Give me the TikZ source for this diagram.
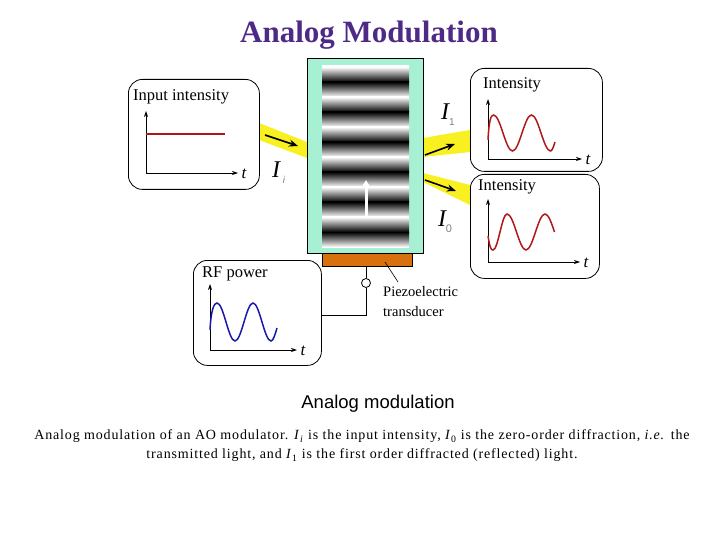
\documentclass[tikz,border=0pt]{standalone}
\usepackage{fontspec}
\setmainfont{Liberation Serif}
\newfontfamily\arialf{Liberation Sans}
\newfontfamily\capf[LetterSpace=6]{Liberation Serif}
\usetikzlibrary{arrows.meta}
\definecolor{ttl}{HTML}{4E2A86}
\definecolor{aqua}{HTML}{A8F0D4}
\definecolor{piezo}{HTML}{D8700E}
\definecolor{beam}{HTML}{F8F020}
\definecolor{sred}{HTML}{B01818}
\definecolor{sblue}{HTML}{1818A8}
\tikzset{
 panel/.style={draw=black, line width=0.8pt, rounded corners=14pt},
 axis/.style={line width=0.8pt, -{Stealth[length=6pt,width=4pt]}},
 lbl/.style={anchor=west, inner sep=0pt, font=\fontsize{16.5}{17}\selectfont},
 tl/.style={inner sep=0pt, font=\fontsize{17}{18}\selectfont\itshape},
 bigI/.style={inner sep=0pt, font=\fontsize{24}{26}\selectfont\itshape},
 bar/.style={-{Stealth[length=9pt,width=7pt]}, line width=1.6pt},
 wave/.style={line width=1.5pt},
}
\begin{document}
\begin{tikzpicture}[x=1pt,y=-1pt]
\useasboundingbox (0,0) rectangle (720,540);
\node[font=\fontsize{31}{32}\selectfont\bfseries, text=ttl] (title) at (369,35) {Analog Modulation};
% beams
\fill[beam] (259,123) -- (307,142) -- (307,158) -- (259,140) -- cycle;
\fill[beam] (423,138) -- (470,130) -- (470,152) -- (423,157) -- cycle;
\fill[beam] (423,173) -- (470,185) -- (470,205) -- (423,182) -- cycle;
% crystal
\node[draw, line width=0.8pt, fill=aqua, minimum width=116pt, minimum height=195pt, inner sep=0pt, anchor=north west] (cryst) at (307,58) {};
\fill[white] (322,65) rectangle (409,67);
\foreach \k in {0,...,5}{
  \pgfmathsetmacro{\ya}{67+30*\k}
  \pgfmathsetmacro{\yb}{82+30*\k}
  \pgfmathsetmacro{\yc}{97+30*\k}
  \shade[top color=white, bottom color=black] (322,\ya) rectangle (409,\yb);
  \shade[top color=black, bottom color=white] (322,\yb) rectangle (409,\yc);
}
\coordinate (wa) at (366,217); \coordinate (wb) at (366,180);
\draw[white, line width=3pt, -{Triangle[length=8pt,width=9pt]}] (wa) -- (wb);
% transducer
\node[draw, line width=0.5pt, fill=piezo, minimum width=90pt, minimum height=13pt, inner sep=0pt, anchor=north west] (pz) at (322,253) {};
\node[draw, circle, fill=white, minimum size=9pt, inner sep=0pt, line width=0.8pt] (term) at (366,283) {};
\coordinate (corner) at (366,315);
\draw[line width=0.8pt] (366,266) -- (term) -- (corner) -- (321,315);
\coordinate (p1) at (385,262); \coordinate (p2) at (398,282);
\draw[line width=0.6pt] (p1) -- (p2);
\node[lbl, anchor=north west, align=left, font=\fontsize{14.5}{20}\selectfont] (piez) at (383,286) {Piezoelectric\\transducer};
% input panel
\node[panel, minimum width=131pt, minimum height=110pt, anchor=north west] (inp) at (128,79) {};
\node[lbl] at (133,97) {Input intensity};
\draw[axis] (146,173) -- (146,111);
\draw[axis] (146,173) -- (238,173);
\node[tl] at (244,174) {t};
\draw[sred, line width=1.5pt] (146,134) -- (225,134);
% intensity 1
\node[panel, minimum width=132pt, minimum height=103pt, anchor=north west] (o1) at (470,68) {};
\node[lbl] at (483,85) {Intensity};
\draw[axis] (488,159) -- (488,99);
\draw[axis] (488,159) -- (582,159);
\node[tl] at (588,160) {t};
\draw[sred, wave] (488,140) .. controls (489,120) and (491,115) .. (493.5,115) cos (503,133) sin (512.5,151) cos (522,133) sin (531.5,115) cos (541,133) sin (550.5,151) cos (555,142);
% intensity 2
\node[panel, minimum width=129pt, minimum height=104pt, anchor=north west] (o0) at (470,174) {};
\node[lbl] at (478,187) {Intensity};
\draw[axis] (488,262) -- (488,199);
\draw[axis] (488,262) -- (580,262);
\node[tl] at (586,263) {t};
\draw[sred, wave] (488,236) .. controls (490,248) and (491,250) .. (493,250) cos (500,232) sin (507,214) cos (516.5,232) sin (526,250) cos (535.5,232) sin (545,214) cos (554.5,232);
% RF panel
\node[panel, minimum width=128pt, minimum height=105pt, anchor=north west] (rf) at (193,260) {};
\node[lbl] at (202,274) {RF power};
\draw[axis] (210,350) -- (210,284);
\draw[axis] (210,350) -- (297,350);
\node[tl] at (303,351) {t};
\draw[sblue, wave] (210,330) .. controls (211,310) and (214,303) .. (217,303) cos (226,322) sin (235,341) cos (244,322) sin (253,303) cos (262,322) sin (271,341) cos (277,328);
% beam arrows
\coordinate (a1) at (265,135); \coordinate (a2) at (298,146);
\draw[bar] (a1) -- (a2);
\coordinate (b1) at (425,155); \coordinate (b2) at (455,144);
\draw[bar] (b1) -- (b2);
\coordinate (c1) at (425,180); \coordinate (c2) at (456,191);
\draw[bar] (c1) -- (c2);
% labels
\node[bigI] (Ii) at (276,170) {I};
\node[inner sep=0pt, font=\arialf\fontsize{10}{10}\selectfont\itshape, text=gray] at (284,180) {i};
\node[bigI] (I1) at (445,112) {I};
\node[inner sep=0pt, font=\arialf\fontsize{10}{10}\selectfont, text=gray] at (452,122) {1};
\node[bigI] (I0) at (442,219) {I};
\node[inner sep=0pt, font=\arialf\fontsize{11}{11}\selectfont, text=gray] at (449,229) {0};
\node[font=\arialf\fontsize{18.5}{19}\selectfont] (am) at (378,404) {Analog modulation};
\node[align=center, font=\capf\fontsize{14}{19}\selectfont] (cap) at (362,446) {Analog modulation of an AO modulator. \textit{I}\textsubscript{\textit{i}} is the input intensity, \textit{I}\textsubscript{0} is the zero-order diffraction, \textit{i.e.} the\\transmitted light, and \textit{I}\textsubscript{1} is the first order diffracted (reflected) light.};
\end{tikzpicture}
\end{document}
